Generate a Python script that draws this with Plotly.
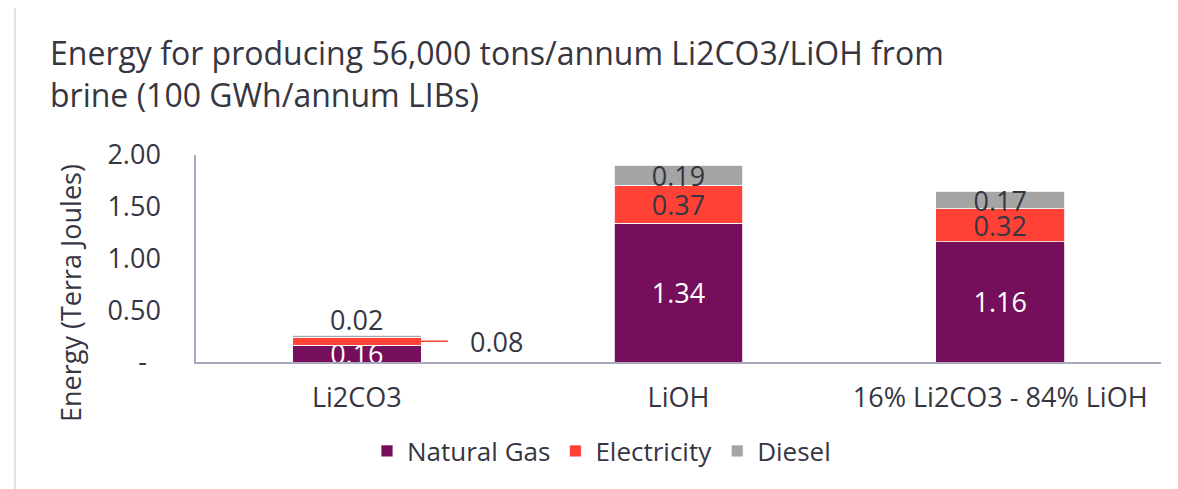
import plotly.graph_objects as go

# data
categories = ["Li2CO3", "LiOH", "16% Li2CO3 - 84% LiOH"]
natural_gas = [0.16, 1.34, 1.16]
electricity = [0.08, 0.37, 0.32]
diesel = [0.02, 0.19, 0.17]
y_ticks = [0, 0.5, 1.0, 1.5, 2.0]
y_tick_text = ["-\u00a0\u00a0", "0.50", "1.00", "1.50", "2.00"]

FONT = "Open Sans"
DARK = "#363642"
FS = 27
# page body has an 8px margin, so the figure is 8px smaller and pixel targets are shifted by 8
OFF = 8
W, H = 1178 - OFF, 489 - OFF
L, R, T, B = 196 - OFF, W - (1161 - OFF), 155 - OFF, 127
PW, PH = W - L - R, H - T - B


def px_x(x):
    return (x - OFF - L) / PW


def px_y(y):
    return (H - B - (y - OFF)) / PH


fig = go.Figure()

fig.add_trace(go.Bar(
    x=categories, y=natural_gas, name="Natural Gas",
    marker=dict(color="#760F5B", line=dict(color="white", width=0.8)),
    text=["%.2f" % v for v in natural_gas], textposition="inside",
    insidetextanchor="middle", constraintext="none",
    insidetextfont=dict(color="white", size=FS, family=FONT),
))
# small values are labelled with annotations further down
fig.add_trace(go.Bar(
    x=categories, y=electricity, name="Electricity",
    marker=dict(color="#FF4136", line=dict(color="white", width=0.8)),
    text=["" if v < 0.1 else "%.2f" % v for v in electricity], textposition="inside",
    insidetextanchor="middle", constraintext="none",
    insidetextfont=dict(color=DARK, size=FS, family=FONT),
))
fig.add_trace(go.Bar(
    x=categories, y=diesel, name="Diesel",
    marker=dict(color="#A5A5A5", line=dict(color="white", width=0.8)),
    text=["" if v < 0.1 else "%.2f" % v for v in diesel], textposition="inside",
    insidetextanchor="middle", constraintext="none",
    insidetextfont=dict(color=DARK, size=FS, family=FONT),
))

# Li2CO3 electricity: label to the right with a red leader line
fig.add_annotation(
    x=categories[0], y=natural_gas[0] + electricity[0] / 2,
    xshift=64, ax=76, ay=0, axref="pixel", ayref="pixel",
    text="%.2f" % electricity[0], showarrow=True, arrowhead=0,
    arrowwidth=1.5, arrowcolor="#FF4136", startstandoff=21,
    font=dict(color=DARK, size=FS, family=FONT),
)
# Li2CO3 diesel: label sits just above the bar
fig.add_annotation(
    x=categories[0], y=natural_gas[0] + electricity[0] + diesel[0],
    yanchor="bottom", yshift=-5, showarrow=False,
    text="%.2f" % diesel[0],
    font=dict(color=DARK, size=FS, family=FONT),
)

# y axis title, placed lower than plot middle as in the reference
fig.add_annotation(
    xref="paper", yref="paper", x=px_x(70), y=px_y(293),
    xanchor="center", yanchor="middle",
    text="Energy (Terra Joules)", textangle=-90, showarrow=False,
    font=dict(color=DARK, size=FS, family=FONT),
)

# light border around the whole chart
fig.add_shape(
    type="rect", xref="paper", yref="paper",
    x0=px_x(15), x1=px_x(1171), y0=px_y(520), y1=px_y(5),
    line=dict(color="#D9D9D9", width=1.5),
)

fig.update_layout(
    width=W, height=H,
    margin=dict(l=L, r=R, t=T, b=B),
    barmode="stack", bargap=0.6,
    plot_bgcolor="white", paper_bgcolor="white",
    font=dict(family=FONT, color=DARK, size=FS),
    title=dict(
        text="Energy for producing 56,000 tons/annum Li2CO3/LiOH from<br>brine (100 GWh/annum LIBs)",
        x=(50 - OFF) / W, xanchor="left", xref="container",
        y=1 - 57 / H, yanchor="top", yref="container",
        font=dict(size=32, family=FONT, color=DARK),
    ),
    legend=dict(
        orientation="h", x=px_x(367), xanchor="left",
        y=px_y(451), yanchor="middle",
        font=dict(size=26, family=FONT, color=DARK),
        traceorder="normal",
    ),
    showlegend=True,
)
fig.update_xaxes(
    showline=True, linecolor="#A7A7BD", linewidth=1.5,
    showgrid=False, ticks="", ticklabelstandoff=11,
    tickfont=dict(size=FS, family=FONT, color=DARK),
)
fig.update_yaxes(
    range=[0, 2], tickvals=y_ticks, ticktext=y_tick_text,
    showline=True, linecolor="#A7A7BD", linewidth=1.5,
    showgrid=False, zeroline=False, ticks="", ticklabelstandoff=28,
    tickfont=dict(size=FS, family=FONT, color=DARK),
)

fig.write_html("out.html")
